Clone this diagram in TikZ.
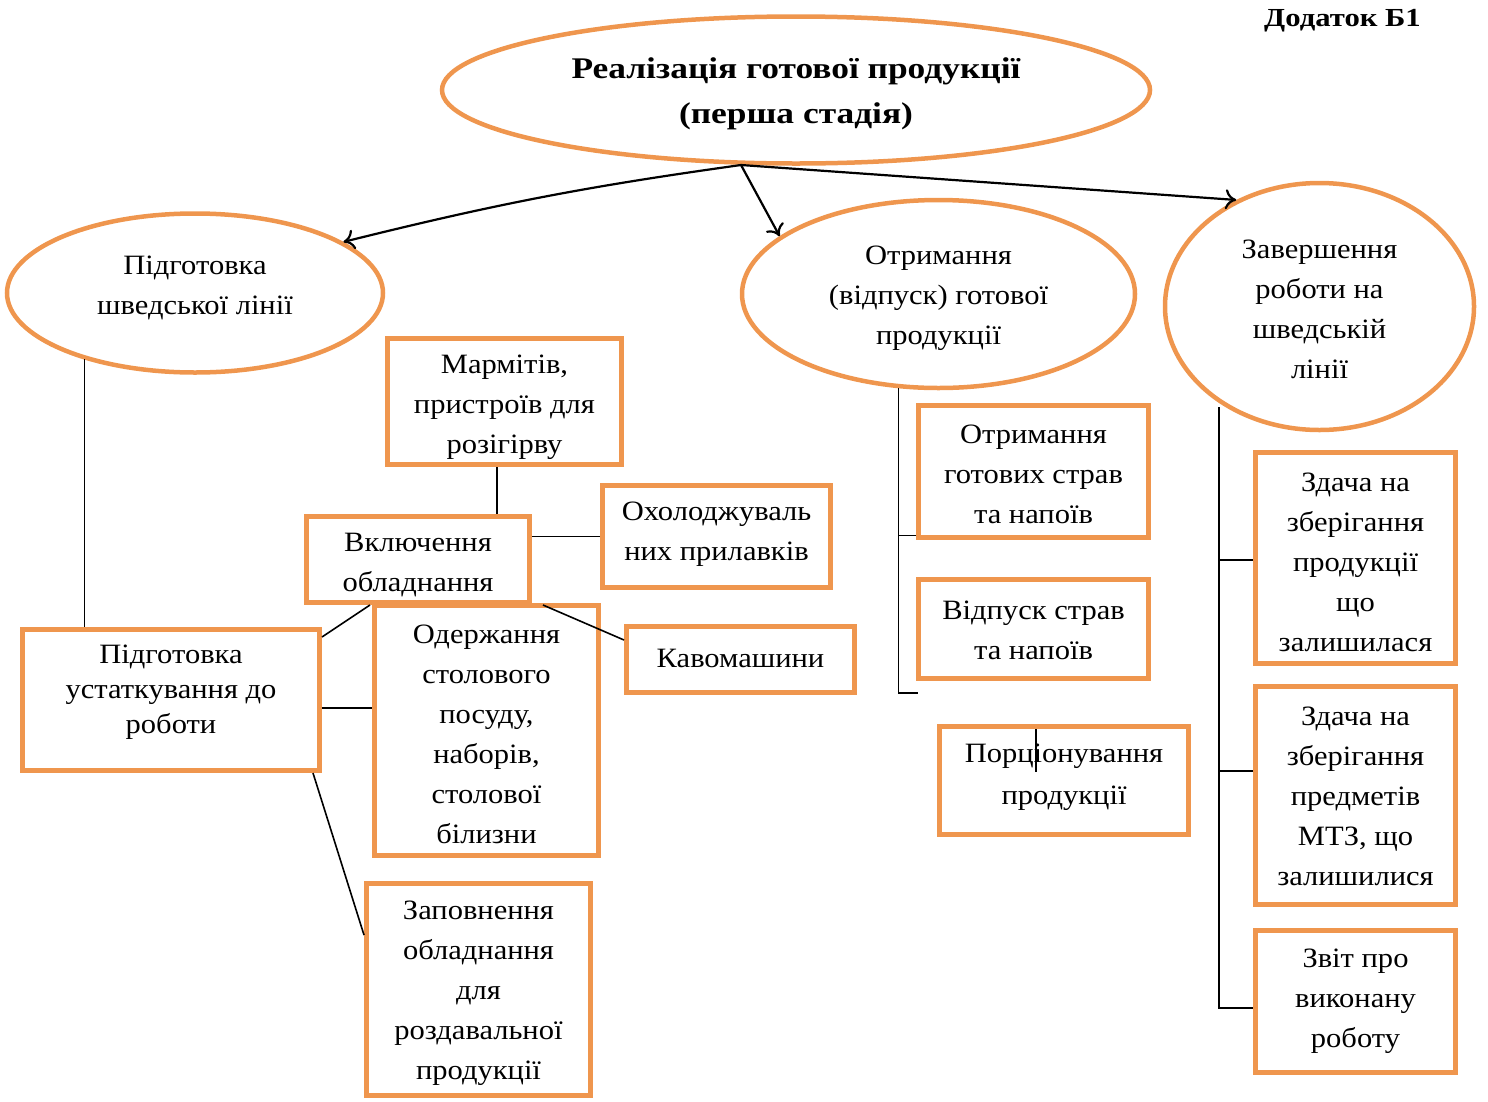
\documentclass[tikz,border=0pt]{standalone}
\usepackage{fontspec}
\setmainfont{Liberation Serif}[FakeStretch=1.09]
\newfontfamily\titlefont{Liberation Serif}[FakeStretch=1.18]
\usetikzlibrary{shapes.geometric,arrows.meta}
\definecolor{org}{RGB}{239,150,78}
\begin{document}
\begin{tikzpicture}[x=1pt,y=-1pt,
  lbl/.style={align=center,inner sep=0pt,yshift=-3pt,font=\fontsize{28}{40}\selectfont},
  ell/.style={ellipse,draw=org,line width=4.5pt,inner sep=0pt},
  bx/.style={rectangle,draw=org,line width=5pt,inner sep=0pt},
  link/.style={draw=black,line width=1.6pt},
  arr/.style={draw=black,line width=2.2pt,-{To[length=11pt,width=20pt,line width=2.2pt]}}
]
\useasboundingbox (0,0) rectangle (1488,1101);

% appendix label
\node[anchor=east,inner sep=0pt,yshift=-3pt,font=\titlefont\bfseries\fontsize{26}{30}\selectfont] (app) at (1421,18) {Додаток Б1};

% ellipses
\node[ell,minimum width=708pt,minimum height=147pt] (top) at (796,90) {};
\node[lbl,font=\titlefont\bfseries\fontsize{30}{45}\selectfont] (topT) at (796,90.5) {Реалізація готової продукції\\(перша стадія)};
\node[ell,minimum width=376pt,minimum height=159pt] (lell) at (195,293) {};
\node[lbl] (lellT) at (195,285) {Підготовка\\шведської лінії};
\node[ell,minimum width=393pt,minimum height=188pt] (mell) at (938.5,294) {};
\node[lbl] (mellT) at (938.5,295) {Отримання\\(відпуск) готової\\продукції};
\node[ell,minimum width=309pt,minimum height=247pt] (rell) at (1319.5,306.5) {};
\node[lbl] (rellT) at (1319.5,306) {Завершення\\роботи на\\шведській\\лінії};

% boxes
\node[bx,minimum width=234pt,minimum height=126pt] (marm) at (504.5,401.5) {};
\node[lbl] (marmT) at (504.5,404.5) {Мармітів,\\пристроїв для\\розігірву};
\node[bx,minimum width=223pt,minimum height=86pt] (vkl) at (418,559.5) {};
\node[lbl] (vklT) at (418,562) {Включення\\обладнання};
\node[bx,minimum width=228pt,minimum height=102pt] (ohol) at (716.5,536.5) {};
\node[lbl] (oholT) at (716.5,531) {Охолоджуваль\\них прилавків};
\node[bx,minimum width=228pt,minimum height=66pt] (kavo) at (740.5,659.5) {};
\node[lbl] (kavoT) at (740.5,655) {Кавомашини};
\node[bx,minimum width=297pt,minimum height=141pt] (pu) at (171,700) {};
\node[lbl,font=\fontsize{28}{35}\selectfont] (puT) at (171,689) {Підготовка\\устаткування до\\роботи};
\node[bx,minimum width=224pt,minimum height=250pt] (odr) at (486.5,730.5) {};
\node[lbl] (odrT) at (486.5,731.5) {Одержання\\столового\\посуду,\\наборів,\\столової\\білизни};
\node[bx,minimum width=224pt,minimum height=212pt] (zap) at (478.5,989.5) {};
\node[lbl] (zapT) at (478.5,990) {Заповнення\\обладнання\\для\\роздавальної\\продукції};
\node[bx,minimum width=230pt,minimum height=132pt] (otr) at (1033.5,471.5) {};
\node[lbl] (otrT) at (1033.5,471) {Отримання\\готових страв\\та напоїв};
\node[bx,minimum width=230pt,minimum height=99pt] (vidp) at (1033.5,629) {};
\node[lbl] (vidpT) at (1033.5,627) {Відпуск страв\\та напоїв};
\node[bx,minimum width=249pt,minimum height=108pt] (porc) at (1064,780.5) {};
\node[lbl,font=\fontsize{28}{42}\selectfont] (porcT) at (1064,774) {Порціонування\\продукції};
\node[bx,minimum width=200pt,minimum height=211pt] (zd1) at (1355.5,558) {};
\node[lbl] (zd1T) at (1355.5,559) {Здача на\\зберігання\\продукції\\що\\залишилася};
\node[bx,minimum width=200pt,minimum height=218pt] (zd2) at (1355.5,795.5) {};
\node[lbl] (zd2T) at (1355.5,793.5) {Здача на\\зберігання\\предметів\\МТЗ, що\\залишилися};
\node[bx,minimum width=200pt,minimum height=142pt] (zvit) at (1355.5,1001.5) {};
\node[lbl] (zvitT) at (1355.5,998) {Звіт про\\виконану\\роботу};

% text cursor artefact
\draw[line width=1.2pt] (1036,729) -- (1036,772);

% arrows from the title ellipse
\coordinate (src) at (741,165);
\draw[arr] (src) to[bend right=3] (lell.19);
\draw[arr] (src) -- (mell.160);
\draw[arr] (src) -- (rell.128);

% left branch
\draw[link] (lell.211) -- (lell.211 |- pu.north);
\draw[link] ([xshift=-7.5pt]marm.south) -- ([xshift=-7.5pt]marm.south |- vkl.north);
\draw[link] (ohol.west -| vkl.east) -- (ohol.west);
\draw[link] ([xshift=11pt]vkl.south east) -- ([yshift=-16pt]kavo.north west);
\draw[link] ([yshift=-10pt]pu.north east) -- ([xshift=66pt]vkl.south west);
\draw[link] ([yshift=-8pt]pu.east) -- ([yshift=-8pt]pu.east -| odr.west);
\draw[link] ([xshift=-9pt]pu.south east) -- ([yshift=-54pt]zap.north west);

% middle bracket
\coordinate (mb) at (898,693);
\draw[link] (mell.247) -- (mell.247 |- mb) -- ++(19,0);
\draw[link] ([yshift=-64pt]otr.west) -- ([yshift=-64pt]otr.west -| mb);

% right bracket
\coordinate (rb) at (1219,407);
\draw[link] (rb) |- ([yshift=-6.5pt]zvit.west);
\draw[link] ([yshift=-2pt]zd1.west) -- ([yshift=-2pt]zd1.west -| rb);
\draw[link] ([yshift=24.5pt]zd2.west) -- ([yshift=24.5pt]zd2.west -| rb);
\end{tikzpicture}
\end{document}
